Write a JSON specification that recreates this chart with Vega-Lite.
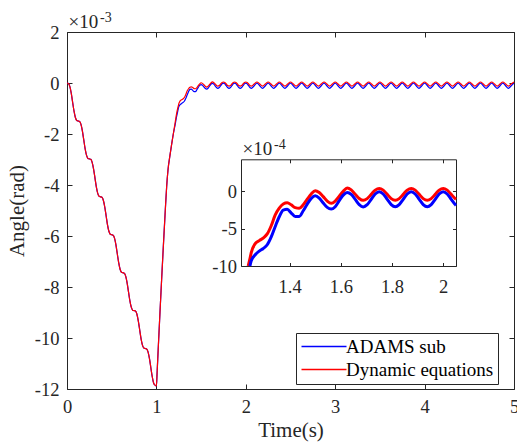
{
"$schema": "https://vega.github.io/schema/vega-lite/v6.json",
"width": 447, "height": 357,
"autosize": "none",
"padding": {"left": 67, "top": 32, "right": 3, "bottom": 54},
"background": "white",
"config": {
  "font": "Liberation Serif",
  "view": {"stroke": "#262626", "strokeWidth": 1},
  "axis": {"grid": false, "labelFont": "Liberation Serif", "titleFont": "Liberation Serif", "labelColor": "#262626", "titleColor": "#262626", "tickColor": "#262626", "domainColor": "#262626", "titleFontWeight": "normal", "labelFontSize": 18.5, "titleFontSize": 21, "labelFlush": false, "labelOverlap": false, "tickWidth": 1}
},
"datasets": {"curve": [
{"t":0,"a":0,"d":0},{"t":0.0156,"a":-0.018,"d":-0.018},{"t":0.0313,"a":-0.135,"d":-0.135},{"t":0.0469,"a":-0.39,"d":-0.39},
{"t":0.0625,"a":-0.744,"d":-0.744},{"t":0.0781,"a":-1.097,"d":-1.097},{"t":0.0938,"a":-1.353,"d":-1.353},{"t":0.1094,"a":-1.469,"d":-1.469},
{"t":0.125,"a":-1.488,"d":-1.488},{"t":0.1406,"a":-1.506,"d":-1.506},{"t":0.1563,"a":-1.622,"d":-1.622},{"t":0.1719,"a":-1.878,"d":-1.878},
{"t":0.1875,"a":-2.231,"d":-2.231},{"t":0.2031,"a":-2.585,"d":-2.585},{"t":0.2188,"a":-2.84,"d":-2.84},{"t":0.2344,"a":-2.957,"d":-2.957},
{"t":0.25,"a":-2.975,"d":-2.975},{"t":0.2656,"a":-2.993,"d":-2.993},{"t":0.2813,"a":-3.11,"d":-3.11},{"t":0.2969,"a":-3.365,"d":-3.365},
{"t":0.3125,"a":-3.719,"d":-3.719},{"t":0.3281,"a":-4.072,"d":-4.072},{"t":0.3438,"a":-4.328,"d":-4.328},{"t":0.3594,"a":-4.444,"d":-4.444},
{"t":0.375,"a":-4.463,"d":-4.463},{"t":0.3906,"a":-4.481,"d":-4.481},{"t":0.4063,"a":-4.597,"d":-4.597},{"t":0.4219,"a":-4.853,"d":-4.853},
{"t":0.4375,"a":-5.206,"d":-5.206},{"t":0.4531,"a":-5.56,"d":-5.56},{"t":0.4688,"a":-5.815,"d":-5.815},{"t":0.4844,"a":-5.932,"d":-5.932},
{"t":0.5,"a":-5.95,"d":-5.95},{"t":0.5156,"a":-5.968,"d":-5.968},{"t":0.5313,"a":-6.085,"d":-6.085},{"t":0.5469,"a":-6.34,"d":-6.34},
{"t":0.5625,"a":-6.694,"d":-6.694},{"t":0.5781,"a":-7.047,"d":-7.047},{"t":0.5938,"a":-7.303,"d":-7.303},{"t":0.6094,"a":-7.419,"d":-7.419},
{"t":0.625,"a":-7.438,"d":-7.438},{"t":0.6406,"a":-7.456,"d":-7.456},{"t":0.6563,"a":-7.572,"d":-7.572},{"t":0.6719,"a":-7.828,"d":-7.828},
{"t":0.6875,"a":-8.181,"d":-8.181},{"t":0.7031,"a":-8.535,"d":-8.535},{"t":0.7188,"a":-8.79,"d":-8.79},{"t":0.7344,"a":-8.907,"d":-8.907},
{"t":0.75,"a":-8.925,"d":-8.925},{"t":0.7656,"a":-8.943,"d":-8.943},{"t":0.7813,"a":-9.06,"d":-9.06},{"t":0.7969,"a":-9.315,"d":-9.315},
{"t":0.8125,"a":-9.669,"d":-9.669},{"t":0.8281,"a":-10.022,"d":-10.022},{"t":0.8438,"a":-10.278,"d":-10.278},{"t":0.8594,"a":-10.394,"d":-10.394},
{"t":0.875,"a":-10.413,"d":-10.413},{"t":0.8906,"a":-10.431,"d":-10.431},{"t":0.9063,"a":-10.547,"d":-10.547},{"t":0.9219,"a":-10.803,"d":-10.803},
{"t":0.9375,"a":-11.156,"d":-11.156},{"t":0.9531,"a":-11.51,"d":-11.51},{"t":0.9688,"a":-11.765,"d":-11.765},{"t":0.9844,"a":-11.85,"d":-11.85},
{"t":1,"a":-11.88,"d":-11.88},
{"t":1.008,"a":-11.35,"d":-11.35},{"t":1.02,"a":-10.45,"d":-10.45},{"t":1.04,"a":-9.0,"d":-9.0},{"t":1.06,"a":-7.6,"d":-7.6},
{"t":1.08,"a":-6.25,"d":-6.25},{"t":1.1,"a":-4.95,"d":-4.95},{"t":1.115,"a":-4.05,"d":-4.05},{"t":1.13,"a":-3.4,"d":-3.4},
{"t":1.15,"a":-2.88,"d":-2.88},{"t":1.17,"a":-2.42,"d":-2.42},{"t":1.19,"a":-1.98,"d":-1.98},
{"t":1.21,"a":-1.63,"d":-1.55},{"t":1.225,"a":-1.33,"d":-1.22},{"t":1.238,"a":-1.12,"d":-1.0},{"t":1.245,"a":-1.0,"d":-0.9},
{"t":1.25,"a":-0.93,"d":-0.82},{"t":1.2656,"a":-0.85,"d":-0.7},{"t":1.2813,"a":-0.8,"d":-0.66},{"t":1.2969,"a":-0.765,"d":-0.625},
{"t":1.3125,"a":-0.715,"d":-0.57},{"t":1.3281,"a":-0.61,"d":-0.46},{"t":1.3438,"a":-0.47,"d":-0.315},{"t":1.3594,"a":-0.34,"d":-0.225},
{"t":1.375,"a":-0.25,"d":-0.168},{"t":1.3906,"a":-0.24,"d":-0.152},{"t":1.4063,"a":-0.29,"d":-0.18},{"t":1.4219,"a":-0.335,"d":-0.218},
{"t":1.4375,"a":-0.335,"d":-0.226},{"t":1.4531,"a":-0.26,"d":-0.18},{"t":1.4688,"a":-0.17,"d":-0.105},{"t":1.4844,"a":-0.095,"d":-0.035},
{"t":1.5,"a":-0.06,"d":0.01},{"t":1.5156,"a":-0.09,"d":-0.015},{"t":1.5313,"a":-0.155,"d":-0.07},{"t":1.5469,"a":-0.215,"d":-0.13},
{"t":1.5625,"a":-0.237,"d":-0.16},{"t":1.5781,"a":-0.205,"d":-0.13},{"t":1.5938,"a":-0.125,"d":-0.065},{"t":1.6094,"a":-0.05,"d":0.0},
{"t":1.625,"a":-0.015,"d":0.045},{"t":1.6406,"a":-0.04,"d":0.02},{"t":1.6563,"a":-0.108,"d":-0.038},{"t":1.6719,"a":-0.178,"d":-0.095},
{"t":1.6875,"a":-0.208,"d":-0.12},{"t":1.7031,"a":-0.178,"d":-0.097},{"t":1.7188,"a":-0.106,"d":-0.04},{"t":1.7344,"a":-0.035,"d":0.017},
{"t":1.75,"a":-0.005,"d":0.04},{"t":1.7656,"a":-0.035,"d":0.017},{"t":1.7813,"a":-0.106,"d":-0.04},{"t":1.7969,"a":-0.177,"d":-0.097},
{"t":1.8125,"a":-0.207,"d":-0.12},{"t":1.8281,"a":-0.177,"d":-0.097},{"t":1.8438,"a":-0.106,"d":-0.04},{"t":1.8594,"a":-0.035,"d":0.017},
{"t":1.875,"a":-0.005,"d":0.04},{"t":1.8906,"a":-0.035,"d":0.017},{"t":1.9063,"a":-0.106,"d":-0.04},{"t":1.9219,"a":-0.177,"d":-0.097},
{"t":1.9375,"a":-0.207,"d":-0.12},{"t":1.9531,"a":-0.177,"d":-0.097},{"t":1.9688,"a":-0.106,"d":-0.04},{"t":1.9844,"a":-0.035,"d":0.017},
{"t":2.0,"a":-0.005,"d":0.04},{"t":2.0156,"a":-0.035,"d":0.017},{"t":2.0313,"a":-0.106,"d":-0.04},{"t":2.0469,"a":-0.177,"d":-0.097},
{"t":2.05,"a":-0.188,"d":-0.105},
{"t":2.0625,"a":-0.207,"d":-0.12},{"t":2.0938,"a":-0.106,"d":-0.04},
{"t":2.125,"a":-0.005,"d":0.04},{"t":2.1563,"a":-0.106,"d":-0.04},{"t":2.1875,"a":-0.207,"d":-0.12},{"t":2.2188,"a":-0.106,"d":-0.04},
{"t":2.25,"a":-0.005,"d":0.04},{"t":2.2813,"a":-0.106,"d":-0.04},{"t":2.3125,"a":-0.207,"d":-0.12},{"t":2.3438,"a":-0.106,"d":-0.04},
{"t":2.375,"a":-0.005,"d":0.04},{"t":2.4063,"a":-0.106,"d":-0.04},{"t":2.4375,"a":-0.207,"d":-0.12},{"t":2.4688,"a":-0.106,"d":-0.04},
{"t":2.5,"a":-0.005,"d":0.04},{"t":2.5313,"a":-0.106,"d":-0.04},{"t":2.5625,"a":-0.207,"d":-0.12},{"t":2.5938,"a":-0.106,"d":-0.04},
{"t":2.625,"a":-0.005,"d":0.04},{"t":2.6563,"a":-0.106,"d":-0.04},{"t":2.6875,"a":-0.207,"d":-0.12},{"t":2.7188,"a":-0.106,"d":-0.04},
{"t":2.75,"a":-0.005,"d":0.04},{"t":2.7813,"a":-0.106,"d":-0.04},{"t":2.8125,"a":-0.207,"d":-0.12},{"t":2.8438,"a":-0.106,"d":-0.04},
{"t":2.875,"a":-0.005,"d":0.04},{"t":2.9063,"a":-0.106,"d":-0.04},{"t":2.9375,"a":-0.207,"d":-0.12},{"t":2.9688,"a":-0.106,"d":-0.04},
{"t":3.0,"a":-0.005,"d":0.04},{"t":3.0313,"a":-0.106,"d":-0.04},{"t":3.0625,"a":-0.207,"d":-0.12},{"t":3.0938,"a":-0.106,"d":-0.04},
{"t":3.125,"a":-0.005,"d":0.04},{"t":3.1563,"a":-0.106,"d":-0.04},{"t":3.1875,"a":-0.207,"d":-0.12},{"t":3.2188,"a":-0.106,"d":-0.04},
{"t":3.25,"a":-0.005,"d":0.04},{"t":3.2813,"a":-0.106,"d":-0.04},{"t":3.3125,"a":-0.207,"d":-0.12},{"t":3.3438,"a":-0.106,"d":-0.04},
{"t":3.375,"a":-0.005,"d":0.04},{"t":3.4063,"a":-0.106,"d":-0.04},{"t":3.4375,"a":-0.207,"d":-0.12},{"t":3.4688,"a":-0.106,"d":-0.04},
{"t":3.5,"a":-0.005,"d":0.04},{"t":3.5313,"a":-0.106,"d":-0.04},{"t":3.5625,"a":-0.207,"d":-0.12},{"t":3.5938,"a":-0.106,"d":-0.04},
{"t":3.625,"a":-0.005,"d":0.04},{"t":3.6563,"a":-0.106,"d":-0.04},{"t":3.6875,"a":-0.207,"d":-0.12},{"t":3.7188,"a":-0.106,"d":-0.04},
{"t":3.75,"a":-0.005,"d":0.04},{"t":3.7813,"a":-0.106,"d":-0.04},{"t":3.8125,"a":-0.207,"d":-0.12},{"t":3.8438,"a":-0.106,"d":-0.04},
{"t":3.875,"a":-0.005,"d":0.04},{"t":3.9063,"a":-0.106,"d":-0.04},{"t":3.9375,"a":-0.207,"d":-0.12},{"t":3.9688,"a":-0.106,"d":-0.04},
{"t":4.0,"a":-0.005,"d":0.04},{"t":4.0313,"a":-0.106,"d":-0.04},{"t":4.0625,"a":-0.207,"d":-0.12},{"t":4.0938,"a":-0.106,"d":-0.04},
{"t":4.125,"a":-0.005,"d":0.04},{"t":4.1563,"a":-0.106,"d":-0.04},{"t":4.1875,"a":-0.207,"d":-0.12},{"t":4.2188,"a":-0.106,"d":-0.04},
{"t":4.25,"a":-0.005,"d":0.04},{"t":4.2813,"a":-0.106,"d":-0.04},{"t":4.3125,"a":-0.207,"d":-0.12},{"t":4.3438,"a":-0.106,"d":-0.04},
{"t":4.375,"a":-0.005,"d":0.04},{"t":4.4063,"a":-0.106,"d":-0.04},{"t":4.4375,"a":-0.207,"d":-0.12},{"t":4.4688,"a":-0.106,"d":-0.04},
{"t":4.5,"a":-0.005,"d":0.04},{"t":4.5313,"a":-0.106,"d":-0.04},{"t":4.5625,"a":-0.207,"d":-0.12},{"t":4.5938,"a":-0.106,"d":-0.04},
{"t":4.625,"a":-0.005,"d":0.04},{"t":4.6563,"a":-0.106,"d":-0.04},{"t":4.6875,"a":-0.207,"d":-0.12},{"t":4.7188,"a":-0.106,"d":-0.04},
{"t":4.75,"a":-0.005,"d":0.04},{"t":4.7813,"a":-0.106,"d":-0.04},{"t":4.8125,"a":-0.207,"d":-0.12},{"t":4.8438,"a":-0.106,"d":-0.04},
{"t":4.875,"a":-0.005,"d":0.04},{"t":4.9063,"a":-0.106,"d":-0.04},{"t":4.9375,"a":-0.207,"d":-0.12},{"t":4.9688,"a":-0.106,"d":-0.04},
{"t":5.0,"a":-0.005,"d":0.04}
]},
"resolve": {"scale": {"x": "independent", "y": "independent"}},
"layer": [
 {
  "layer": [
   {
    "data": {"name": "curve"},
    "transform": [{"fold": ["a", "d"], "as": ["s", "v"]}],
    "mark": {"type": "line", "strokeWidth": 1.2, "interpolate": "monotone"},
    "encoding": {
      "x": {"field": "t", "type": "quantitative", "scale": {"domain": [0, 5], "nice": false, "zero": false},
            "axis": {"orient": "bottom", "values": [0, 1, 2, 3, 4, 5], "labelExpr": "'' + datum.value", "tickSize": -5, "labelPadding": 13, "domain": false, "title": "Time(s)", "titlePadding": 4}},
      "y": {"field": "v", "type": "quantitative", "scale": {"domain": [-12, 2], "nice": false, "zero": false},
            "axis": {"orient": "left", "values": [-12, -10, -8, -6, -4, -2, 0, 2], "labelExpr": "'' + datum.value", "tickSize": -5, "labelPadding": 13, "domain": false, "title": "Angle(rad)", "titlePadding": 7}},
      "color": {"field": "s", "type": "nominal", "scale": {"domain": ["a", "d"], "range": ["#0000ff", "#ff0000"]},
            "legend": {"orient": "none", "legendX": 229, "legendY": 301, "title": null, "fillColor": "white", "strokeColor": "#262626", "padding": 4,
                       "symbolType": "M-1,0H4.625", "symbolSize": 256, "symbolStrokeWidth": 1.2, "labelFont": "Liberation Serif", "labelFontSize": 19,
                       "labelColor": "#000000", "labelOffset": 27, "rowPadding": 3,
                       "labelExpr": "datum.value == 'a' ? 'ADAMS sub' : 'Dynamic equations'",
                       "encode": {"symbols": {"update": {"stroke": {"signal": "datum.value == 'a' ? '#3333ff' : '#ff3333'"}, "strokeWidth": {"value": 1.3}, "opacity": {"value": 1}, "fill": {"value": "transparent"}}}}}}
    }
   },
   {
    "data": {"values": [{}]},
    "mark": {"type": "text", "text": "×10", "align": "left", "baseline": "alphabetic", "fontSize": 19, "dx": 1.5, "dy": -4.5, "color": "#262626"},
    "encoding": {"x": {"datum": 0, "type": "quantitative"}, "y": {"datum": 2, "type": "quantitative"}}
   },
   {
    "data": {"values": [{}]},
    "mark": {"type": "text", "text": "-3", "align": "left", "baseline": "alphabetic", "fontSize": 14, "dx": 33, "dy": -10, "color": "#262626"},
    "encoding": {"x": {"datum": 0, "type": "quantitative"}, "y": {"datum": 2, "type": "quantitative"}}
   }
  ]
 },
 {
  "data": {"values": [{"t": 0, "v": 0}]},
  "mark": {"type": "point", "opacity": 0},
  "encoding": {
    "x": {"field": "t", "type": "quantitative", "scale": {"domain": [0, 5], "nice": false, "zero": false},
          "axis": {"orient": "top", "values": [0, 1, 2, 3, 4, 5], "labels": false, "tickSize": -5, "domain": false, "title": null}},
    "y": {"field": "v", "type": "quantitative", "scale": {"domain": [-12, 2], "nice": false, "zero": false},
          "axis": {"orient": "right", "values": [-12, -10, -8, -6, -4, -2, 0, 2], "labels": false, "tickSize": -5, "domain": false, "title": null}}
  }
 },
 {
  "layer": [
   {
    "data": {"name": "curve"},
    "transform": [{"fold": ["a", "d"], "as": ["s", "v"]}, {"filter": "datum.t >= 1.2 && datum.t <= 2.05 && datum.v >= -1.0"}],
    "mark": {"type": "line", "strokeWidth": 3, "interpolate": "monotone"},
    "encoding": {
      "x": {"field": "t", "type": "quantitative", "scale": {"domain": [1.21, 2.05], "range": [174, 389], "nice": false, "zero": false},
            "axis": {"orient": "bottom", "offset": -123, "values": [1.4, 1.6, 1.8, 2], "labelExpr": "'' + datum.value", "tickSize": -3.5, "labelPadding": 15, "domain": true, "title": null}},
      "y": {"field": "v", "type": "quantitative", "scale": {"domain": [-1, 0.43], "range": [234, 127.3], "nice": false, "zero": false},
            "axis": {"orient": "left", "offset": -174, "values": [-1, -0.5, 0], "labelExpr": "'' + (datum.value * 10)", "tickSize": -3.5, "labelPadding": 8, "domain": true, "title": null}},
      "color": {"field": "s", "type": "nominal"}
    }
   },
   {
    "data": {"values": [{}]},
    "mark": {"type": "text", "text": "×10", "align": "left", "baseline": "alphabetic", "fontSize": 19, "dx": 1.5, "dy": -4.5, "color": "#262626"},
    "encoding": {"x": {"datum": 1.21, "type": "quantitative"}, "y": {"datum": 0.43, "type": "quantitative"}}
   },
   {
    "data": {"values": [{}]},
    "mark": {"type": "text", "text": "-4", "align": "left", "baseline": "alphabetic", "fontSize": 14, "dx": 33, "dy": -10, "color": "#262626"},
    "encoding": {"x": {"datum": 1.21, "type": "quantitative"}, "y": {"datum": 0.43, "type": "quantitative"}}
   }
  ]
 },
 {
  "data": {"values": [{"t": 1.5, "v": 0}]},
  "mark": {"type": "point", "opacity": 0},
  "encoding": {
    "x": {"field": "t", "type": "quantitative", "scale": {"domain": [1.21, 2.05], "range": [174, 389], "nice": false, "zero": false},
          "axis": {"orient": "top", "offset": -127.3, "values": [1.4, 1.6, 1.8, 2], "labels": false, "tickSize": -3.5, "domain": true, "title": null}},
    "y": {"field": "v", "type": "quantitative", "scale": {"domain": [-1, 0.43], "range": [234, 127.3], "nice": false, "zero": false},
          "axis": {"orient": "right", "offset": -58, "values": [-1, -0.5, 0], "labels": false, "tickSize": -3.5, "domain": true, "title": null}}
  }
 }
]
}
